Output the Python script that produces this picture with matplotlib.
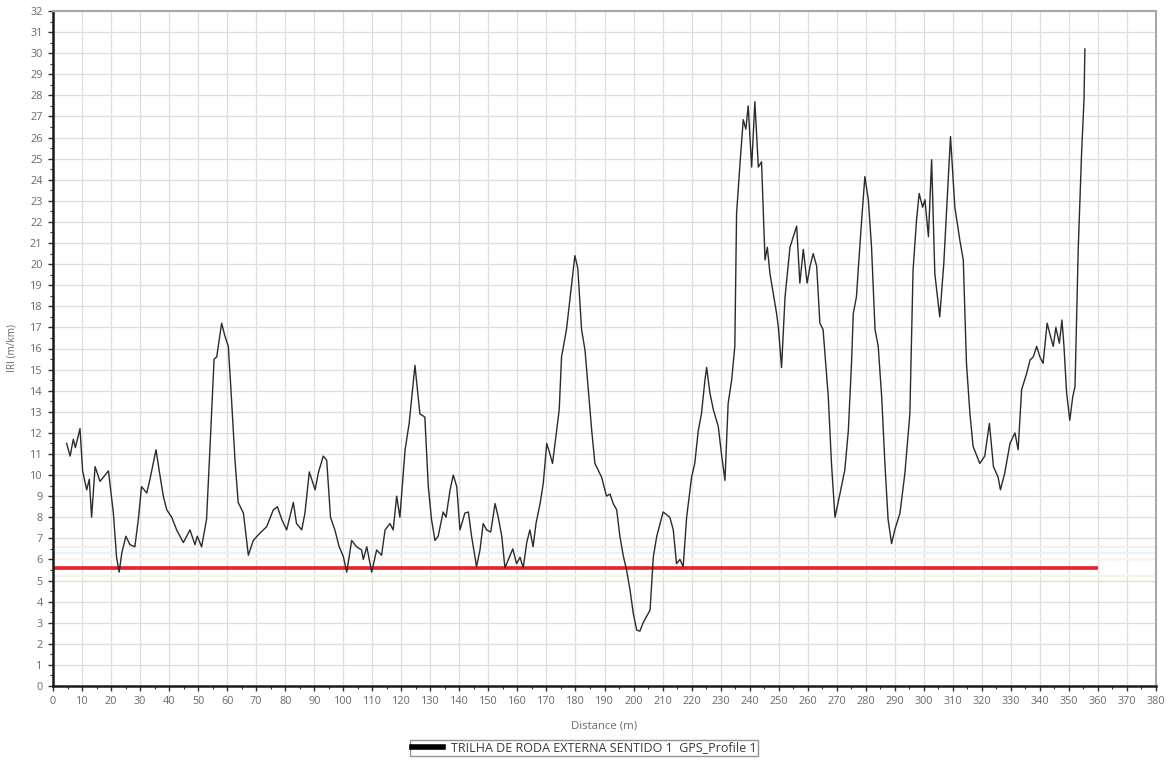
import numpy as np
import matplotlib.pyplot as plt
from matplotlib.ticker import MultipleLocator

# IRI profile along the outer wheel path (direction 1)
distance = [
    4.7, 5.9, 7.0, 7.7, 9.3, 10.2, 11.6, 12.5, 13.3, 14.5, 16.2, 19.1, 20.8, 21.9,
    22.8, 23.7, 25.1, 26.5, 28.2, 29.4, 30.5, 32.3, 33.4, 35.5, 36.6, 38.0, 39.2,
    40.9, 42.6, 44.9, 47.2, 48.9, 49.7, 51.2, 52.9, 54.1, 55.5, 56.4, 58.1, 59.2,
    60.4, 61.5, 62.7, 63.8, 65.6, 67.3, 69.0, 71.3, 73.6, 75.9, 77.3, 78.8, 80.5,
    82.8, 83.9, 85.7, 86.8, 88.3, 90.3, 91.4, 93.1, 94.3, 95.6, 97.1, 98.6,
    100.0, 101.2, 102.9, 104.6, 106.3, 106.9, 108.1, 109.8, 111.5, 113.2, 114.4,
    116.1, 117.2, 118.4, 119.5, 121.3, 122.7, 124.7, 126.4, 128.1, 129.3, 130.4,
    131.6, 132.7, 134.4, 135.4, 136.8, 137.9, 139.1, 140.2, 141.9, 143.1, 144.2,
    145.4, 145.9, 147.1, 148.2, 149.4, 150.8, 152.3, 153.4, 154.6, 155.7, 156.9,
    158.4, 159.7, 160.9, 162.0, 163.2, 164.3, 165.4, 166.4, 167.8, 168.9, 170.1,
    171.2, 172.1, 173.5, 174.4, 175.2, 176.9, 178.3, 179.8, 180.8, 182.1, 183.3,
    185.6, 186.7, 189.0, 190.7, 191.9, 193.0, 194.2, 195.3, 196.5, 197.6, 198.8,
    199.9, 201.1, 202.2, 203.3, 204.5, 205.7, 206.8, 208.0, 210.2, 212.5, 213.7,
    214.8, 216.0, 217.1, 218.3, 220.0, 221.1, 222.3, 223.4, 224.6, 225.2, 226.3,
    227.5, 229.2, 230.3, 231.5, 232.6, 233.8, 234.9, 235.5, 236.7, 237.8, 238.7,
    239.5, 240.7, 241.8, 243.0, 244.1, 245.3, 246.1, 247.0, 249.3, 249.9, 251.0,
    252.2, 253.9, 256.2, 257.3, 258.5, 259.8, 260.8, 261.9, 263.1, 264.2, 265.3,
    267.1, 268.2, 269.4, 271.1, 272.8, 274.0, 275.1, 275.7, 276.8, 277.4, 278.6,
    279.7, 280.9, 282.0, 283.2, 284.3, 285.5, 286.6, 287.7, 288.9, 290.0, 291.8,
    293.5, 295.2, 296.3, 297.5, 298.4, 299.6, 300.4, 301.6, 302.7, 303.8, 305.5,
    306.9, 307.8, 309.2, 310.7, 312.4, 313.6, 314.7, 315.9, 317.0, 319.3, 321.0,
    322.6, 324.0, 325.6, 326.4, 327.9, 329.7, 331.4, 332.5, 333.7, 335.4, 336.6,
    337.7, 338.9, 340.0, 341.1, 342.5, 343.7, 344.6, 345.5, 346.7, 347.6, 348.3,
    349.2, 350.3, 351.3, 352.1, 353.2, 354.4, 355.2, 355.5,
]
iri = [
    11.5, 10.9, 11.7, 11.3, 12.2, 10.2, 9.3, 9.8, 8.0, 10.4, 9.7, 10.2, 8.2, 6.1,
    5.4, 6.3, 7.1, 6.7, 6.6, 7.9, 9.45, 9.15, 9.8, 11.2, 10.2, 9.0, 8.35,
    8.0, 7.4, 6.8, 7.4, 6.7, 7.1, 6.6, 7.9, 11.35, 15.5, 15.6, 17.2, 16.6,
    16.1, 13.6, 10.7, 8.7, 8.2, 6.2, 6.9, 7.25, 7.55, 8.35, 8.5, 7.9, 7.4,
    8.7, 7.7, 7.4, 8.2, 10.15, 9.3, 10.1, 10.9, 10.7, 8.0, 7.4, 6.6,
    6.15, 5.4, 6.9, 6.6, 6.45, 6.0, 6.6, 5.4, 6.45, 6.2, 7.4,
    7.7, 7.4, 9.0, 8.0, 11.2, 12.45, 15.2, 12.9, 12.75, 9.45, 7.9,
    6.9, 7.1, 8.25, 8.0, 9.3, 10.0, 9.45, 7.4, 8.2, 8.25, 7.1,
    6.1, 5.65, 6.45, 7.7, 7.4, 7.3, 8.65, 8.0, 7.1, 5.6, 6.0,
    6.5, 5.8, 6.1, 5.6, 6.8, 7.4, 6.6, 7.7, 8.65, 9.6, 11.5,
    11.0, 10.55, 12.1, 13.1, 15.6, 16.9, 18.6, 20.4, 19.8, 16.9, 15.9,
    12.1, 10.55, 9.9, 9.0, 9.1, 8.65, 8.35, 7.1, 6.15, 5.5, 4.55,
    3.45, 2.65, 2.6, 3.0, 3.3, 3.6, 6.1, 7.1, 8.25, 8.0, 7.4,
    5.8, 6.0, 5.65, 8.0, 9.9, 10.55, 12.1, 12.9, 14.5, 15.1, 13.9,
    13.1, 12.3, 11.0, 9.75, 13.4, 14.5, 16.1, 22.4, 24.8, 26.85, 26.4,
    27.5, 24.6, 27.7, 24.6, 24.85, 20.2, 20.8, 19.55, 17.65, 17.0, 15.1,
    18.45, 20.8, 21.8, 19.1, 20.7, 19.1, 19.9, 20.5, 19.9, 17.2, 16.9,
    13.7, 10.55, 8.0, 9.1, 10.25, 12.1, 15.3, 17.65, 18.45, 19.7, 22.1,
    24.15, 23.05, 20.8, 16.9, 16.1, 13.7, 10.55, 7.9, 6.75, 7.4, 8.2,
    10.1, 12.9, 19.7, 22.1, 23.35, 22.7, 23.05, 21.3, 24.95, 19.55, 17.5,
    20.05, 22.4, 26.05, 22.7, 21.15, 20.2, 15.3, 12.9, 11.35, 10.55, 10.9,
    12.45, 10.4, 9.9, 9.3, 10.1, 11.5, 12.0, 11.2, 14.05, 14.8, 15.45,
    15.6, 16.1, 15.6, 15.3, 17.2, 16.55, 16.1, 17.0, 16.25, 17.35, 16.1,
    13.9, 12.6, 13.7, 14.2, 20.7, 25.4, 27.8, 30.2,
]

# reference thresholds
limit_iri = 5.6
limit_end = 360
faint_levels = [6.6, 6.3, 6.0, 5.2]
faint_colors = ['#fcecec', '#e3f5fc', '#fdf3e6', '#f2f8e6']

series_label = 'TRILHA DE RODA EXTERNA SENTIDO 1  GPS_Profile 1'

plt.rcParams['font.family'] = ['Open Sans', 'DejaVu Sans']
tick_grey = '#6a6a6a'

fig = plt.figure(figsize=(11.75, 7.6), dpi=100)
ax = fig.add_axes([53 / 1175, 1 - 686 / 760, 1103 / 1175, 675 / 760])

ax.set_xlim(0, 380)
ax.set_ylim(0, 32)
ax.xaxis.set_major_locator(MultipleLocator(10))
ax.xaxis.set_minor_locator(MultipleLocator(5))
ax.yaxis.set_major_locator(MultipleLocator(1))
ax.yaxis.set_minor_locator(MultipleLocator(0.5))
ax.grid(True, which='major', color='#dedede', lw=0.9)
ax.set_axisbelow(True)

for lvl, col in zip(faint_levels, faint_colors):
    ax.axhline(lvl, color=col, lw=1.6, zorder=1)

ax.hlines(limit_iri, 0, limit_end, color='#e8202a', lw=2.6, zorder=2)
line, = ax.plot(distance, iri, color='#2b2b2b', lw=1.0, zorder=3,
                label=series_label)

for side in ('left', 'bottom'):
    ax.spines[side].set_color('#1a1a1a')
    ax.spines[side].set_linewidth(1.8)
for side in ('top', 'right'):
    ax.spines[side].set_color('#a8a8a8')
    ax.spines[side].set_linewidth(1.5)

ax.tick_params(which='major', direction='out', length=3.5, width=1,
               color='#333333', labelsize=7.8, labelcolor=tick_grey, pad=4)
ax.tick_params(which='minor', direction='out', length=2, width=0.8,
               color='#333333')

ax.set_xlabel('Distance (m)', fontsize=8.2, color=tick_grey)
ax.set_ylabel('IRI (m/km)', fontsize=7.2, color=tick_grey)
ax.xaxis.set_label_coords(0.5, -35 / 675)
ax.yaxis.set_label_coords(-35 / 1103, 0.5)

leg_handle = plt.Line2D([], [], color='black', lw=4)
leg = fig.legend([leg_handle], [series_label], loc='center',
                 bbox_to_anchor=(584 / 1175, 1 - 748 / 760), fontsize=9,
                 frameon=True, fancybox=False, handlelength=2.5,
                 borderpad=0.15, handletextpad=0.6, borderaxespad=0)
leg.get_frame().set_edgecolor('#7a7a7a')
leg.get_frame().set_linewidth(1.0)
for t in leg.get_texts():
    t.set_color('#3a3a3a')

fig.savefig('out.png', dpi=100)
